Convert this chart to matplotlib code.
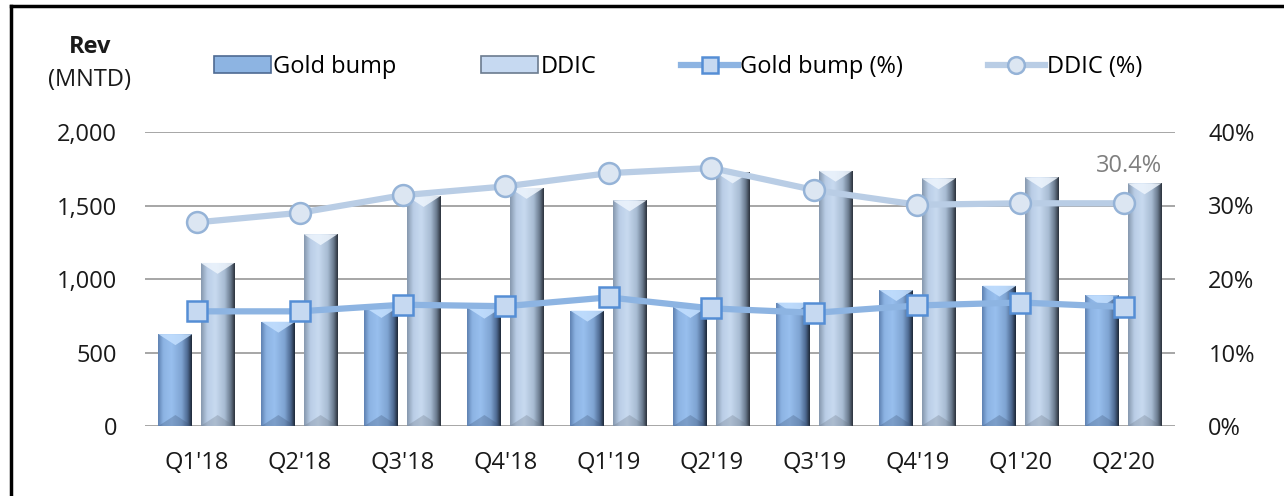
import numpy as np
import matplotlib
matplotlib.use("Agg")
import matplotlib.pyplot as plt
from matplotlib.colors import LinearSegmentedColormap
from matplotlib.patches import Patch, Polygon
from matplotlib.lines import Line2D
from matplotlib.ticker import FuncFormatter

plt.rcParams['font.family'] = ['Liberation Sans Narrow', 'Open Sans', 'DejaVu Sans']

quarters = ["Q1'18", "Q2'18", "Q3'18", "Q4'18", "Q1'19", "Q2'19", "Q3'19", "Q4'19", "Q1'20", "Q2'20"]
gold_rev = [625, 710, 810, 805, 785, 810, 840, 925, 955, 890]
ddic_rev = [1110, 1305, 1565, 1620, 1535, 1725, 1737, 1685, 1692, 1651]
gold_pct = [15.6, 15.6, 16.5, 16.3, 17.5, 16.0, 15.4, 16.4, 16.8, 16.2]
ddic_pct = [27.7, 29.0, 31.4, 32.6, 34.4, 35.1, 32.1, 30.1, 30.3, 30.3]
last_label = "30.4%"

rev_ticks = [0, 500, 1000, 1500, 2000]
pct_ticks = [0, 10, 20, 30, 40]

gold_cmap = LinearSegmentedColormap.from_list(
    "gold", [(0, "#5f82b2"), (0.15, "#8cb3e3"), (0.4, "#98bfee"), (0.7, "#7fa4d2"),
             (0.88, "#4e6a92"), (1, "#1e2938")])
ddic_cmap = LinearSegmentedColormap.from_list(
    "ddic", [(0, "#8698ae"), (0.18, "#b9cde6"), (0.42, "#c8daf0"), (0.7, "#a8bcd3"),
             (0.88, "#6b7b8f"), (1, "#2c333d")])

fig = plt.figure(figsize=(12.84, 4.96), dpi=100)
ax = fig.add_axes([145 / 1284, 70 / 496, 1030 / 1284, 294 / 496])
ax2 = ax.twinx()

x = np.arange(len(quarters))
width = 0.33
ax.set_xlim(-0.5, len(quarters) - 0.5)
ax.set_ylim(0, 2000)
ax2.set_ylim(0, 40)

grad = np.linspace(0, 1, 64).reshape(1, -1)
px_per_unit = 294 / 2000
bevel = 11 / px_per_unit


def draw_bars(xpos, vals, cmap, top_col, bot_col):
    bars = ax.bar(xpos, vals, width, color="none", edgecolor="none", zorder=2)
    for b in bars:
        x0, y1 = b.get_x(), b.get_height()
        x1 = x0 + b.get_width()
        im = ax.imshow(grad, extent=[x0, x1, 0, y1], aspect="auto", cmap=cmap,
                       zorder=2, interpolation="bicubic")
        im.set_clip_path(b)
        xm = (x0 + x1) / 2
        ax.add_patch(Polygon([(x0, y1), (x1, y1), (xm, y1 - bevel)], closed=True,
                             facecolor=top_col, edgecolor="none", alpha=0.85, zorder=3))
        ax.add_patch(Polygon([(x0, 0), (x1, 0), (xm, bevel)], closed=True,
                             facecolor=bot_col, edgecolor="none", alpha=0.3, zorder=3))
    return bars


draw_bars(x - 0.205, gold_rev, gold_cmap, "#c4e0ff", "#3f5677")
draw_bars(x + 0.205, ddic_rev, ddic_cmap, "#eef5fd", "#6d7886")

ax.set_yticks(rev_ticks)
ax.yaxis.set_major_formatter(FuncFormatter(lambda v, p: f"{int(v):,}"))
ax.grid(axis="y", color="#a6a6a6", linewidth=1.4)
ax.set_axisbelow(True)
ax.set_xticks(x)
ax.set_xticklabels(quarters)
ax.tick_params(axis="both", length=0, labelsize=17, colors="#1a1a1a")
ax.tick_params(axis="x", pad=18)
ax.tick_params(axis="y", pad=20)

ax2.plot(x, gold_pct, color="#8db4e2", linewidth=4.5, marker="s", markersize=14,
         markerfacecolor="#c6d9f1", markeredgecolor="#558ed5", markeredgewidth=1.8, zorder=5)
ax2.plot(x, ddic_pct, color="#b9cde5", linewidth=4.5, marker="o", markersize=15,
         markerfacecolor="#dce6f2", markeredgecolor="#95b3d7", markeredgewidth=1.8, zorder=4)
ax2.set_yticks(pct_ticks)
ax2.yaxis.set_major_formatter(FuncFormatter(lambda v, p: f"{int(v)}%"))
ax2.tick_params(axis="y", length=0, labelsize=17, colors="#1a1a1a", pad=24)
ax2.annotate(last_label, (x[-1], ddic_pct[-1]), xytext=(4, 18), textcoords="offset points",
             ha="center", va="bottom", fontsize=17, color="#7f7f7f")

for a in (ax, ax2):
    for s in a.spines.values():
        s.set_visible(False)

handles = [
    Patch(facecolor="#8db4e2", edgecolor="#4e6a92", linewidth=1.2),
    Patch(facecolor="#c6d9f1", edgecolor="#6b7b8f", linewidth=1.2),
    Line2D([], [], color="#8db4e2", linewidth=4.5, marker="s", markersize=12,
           markerfacecolor="#c6d9f1", markeredgecolor="#558ed5", markeredgewidth=1.8),
    Line2D([], [], color="#b9cde5", linewidth=4.5, marker="o", markersize=12,
           markerfacecolor="#dce6f2", markeredgecolor="#95b3d7", markeredgewidth=1.8),
]
labels = ["Gold bump", "DDIC", "Gold bump (%)", "DDIC (%)"]
fig.legend(handles, labels, loc="center left", bbox_to_anchor=(214 / 1284, 1 - 67 / 496),
           ncol=4, frameon=False, fontsize=17, handlelength=2.4, handleheight=0.7,
           handletextpad=0.1, columnspacing=3.6, borderaxespad=0, borderpad=0)

fig.text(90 / 1284, 1 - 47 / 496, "Rev", ha="center", va="center", fontsize=17,
         fontweight="bold", color="#1a1a1a")
fig.text(90 / 1284, 1 - 80 / 496, "(MNTD)", ha="center", va="center", fontsize=17,
         color="#1a1a1a")

# outer frame: top and left edges
fig.add_artist(Line2D([11 / 1284, 1], [1 - 6 / 496] * 2, color="black", linewidth=2.5))
fig.add_artist(Line2D([11 / 1284] * 2, [0, 1 - 6 / 496], color="black", linewidth=2.5))

fig.savefig("out.png", dpi=100)
